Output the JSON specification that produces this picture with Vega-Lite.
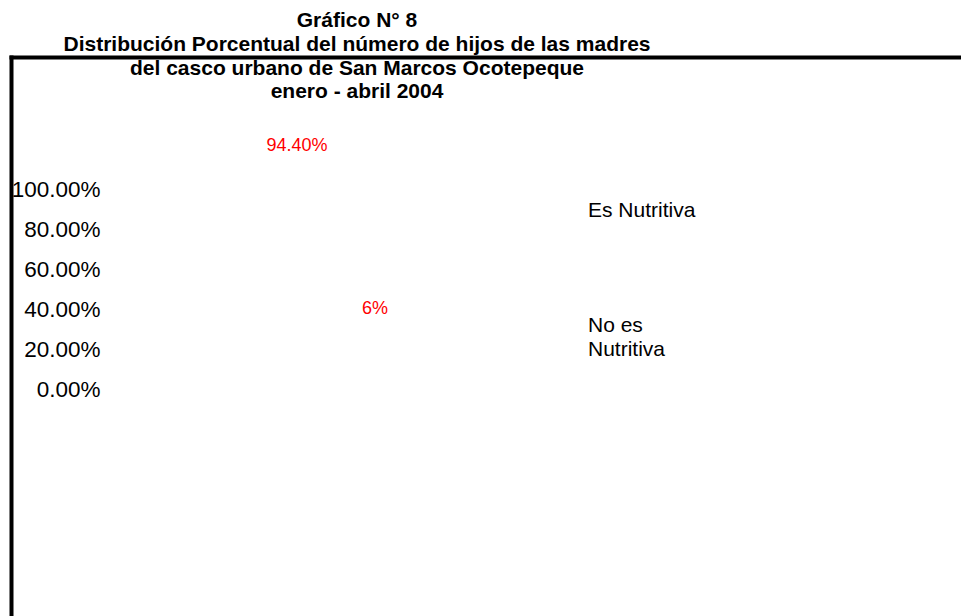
{
  "$schema": "https://vega.github.io/schema/vega-lite/v6.json",
  "width": 950,
  "height": 559,
  "autosize": {"type": "none"},
  "padding": {"left": 11, "top": 57, "right": 0, "bottom": 0},
  "background": "white",
  "title": {
    "text": ["Gráfico N° 8", "Distribución Porcentual del número de hijos de las madres", "del casco urbano de San Marcos Ocotepeque", "enero - abril 2004"],
    "anchor": "middle",
    "frame": "group",
    "align": "center",
    "baseline": "top",
    "dx": -129,
    "offset": -45.5,
    "font": "Liberation Sans",
    "fontSize": 21,
    "fontWeight": "bold",
    "lineHeight": 23.8,
    "color": "#000000"
  },
  "data": {
    "values": [
      {"categoria": "Es Nutritiva", "valor": 0.944, "etiqueta": "94.40%"},
      {"categoria": "No es Nutritiva", "valor": 0.06, "etiqueta": "6%"}
    ]
  },
  "layer": [
    {
      "mark": {"type": "bar", "opacity": 0, "size": 40},
      "encoding": {
        "x": {
          "field": "categoria",
          "type": "nominal",
          "sort": null,
          "scale": {"type": "point", "padding": 1},
          "axis": {
            "orient": "top",
            "title": null,
            "labels": false,
            "ticks": false,
            "grid": false,
            "domain": true,
            "domainColor": "#000000",
            "domainWidth": 4,
            "domainCap": "square"
          }
        },
        "y": {
          "field": "valor",
          "type": "quantitative",
          "scale": {"domain": [-1.1272, 1.6608], "nice": false, "zero": false},
          "axis": {
            "orient": "left",
            "title": null,
            "values": [0, 0.2, 0.4, 0.6, 0.8, 1],
            "format": ".2%",
            "grid": false,
            "ticks": false,
            "tickSize": 0,
            "domain": true,
            "domainColor": "#000000",
            "domainWidth": 4,
            "domainCap": "square",
            "labelAlign": "right",
            "labelBaseline": "middle",
            "labelPadding": -89,
            "labelFont": "Liberation Sans",
            "labelFontSize": 22.5,
            "labelColor": "#000000",
            "labelOverlap": false,
            "labelBound": false,
            "labelFlush": false
          }
        },
        "color": {
          "field": "categoria",
          "type": "nominal",
          "scale": {"range": ["#9999ff", "#993366"]},
          "legend": {
            "title": null,
            "orient": "none",
            "legendX": 556,
            "legendY": 143,
            "direction": "vertical",
            "padding": 0,
            "symbolSize": 0,
            "symbolStrokeWidth": 0,
            "symbolOpacity": 0,
            "labelOffset": 0,
            "labelFont": "Liberation Sans",
            "labelFontSize": 21,
            "labelColor": "#000000",
            "labelLimit": 400,
            "rowPadding": 93,
            "labelExpr": "datum.label == 'No es Nutritiva' ? ['No es', 'Nutritiva'] : datum.label"
          }
        }
      }
    },
    {
      "mark": {"type": "text", "font": "Liberation Sans", "fontSize": 18, "color": "#FF0000", "baseline": "middle", "align": "center"},
      "encoding": {
        "x": {
          "field": "categoria",
          "type": "nominal",
          "sort": null,
          "scale": {"type": "point", "range": [286, 364], "padding": 0, "round": false},
          "axis": null
        },
        "y": {
          "field": "valor",
          "type": "quantitative",
          "scale": {"domain": [-1.6049, 1.4267], "nice": false, "zero": false},
          "axis": null
        },
        "text": {"field": "etiqueta", "type": "nominal"}
      }
    }
  ],
  "resolve": {"scale": {"x": "independent", "y": "independent"}},
  "config": {
    "font": "Liberation Sans",
    "view": {"stroke": null},
    "style": {"guide-label": {"lineHeight": 24}}
  }
}
